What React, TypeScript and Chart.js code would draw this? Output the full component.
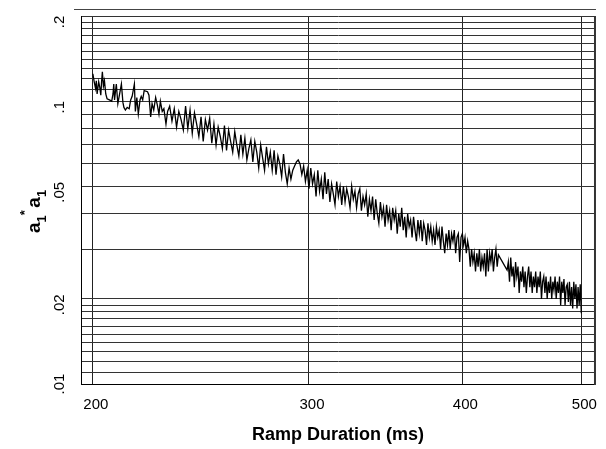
import { useEffect, useRef } from 'react';
import { Chart, registerables } from 'chart.js';

Chart.register(...registerables);

// Ramp duration (ms)
const DURATIONS: number[] = [
  200.0, 200.5, 201.0, 201.3, 201.6, 202.2, 202.6, 203.0, 203.3, 203.6,
  204.0, 204.4, 204.9, 205.4, 206.3, 207.2, 207.7, 208.0, 208.3, 209.0,
  209.6, 210.3, 211.0, 211.6, 212.0, 212.6, 213.3, 214.1, 214.7, 215.3,
  216.2, 216.6, 217.2, 217.8, 218.5, 219.0, 219.6, 220.2, 221.6, 222.2,
  222.9, 223.5, 224.2, 225.0, 225.7, 226.4, 227.0, 227.8, 228.5, 229.4,
  230.1,
  231, 232, 233, 234, 235, 236, 237, 238, 239,
  240, 241, 242, 243, 244, 245, 246, 247, 248, 249,
  250, 251, 252, 253, 254, 255, 256, 257, 258, 259,
  260, 261, 262, 263, 264, 265, 266, 267, 268, 269,
  270, 271, 272, 273, 274, 275, 276, 277, 278, 279,
  280, 281, 282, 283, 284, 285, 286, 287, 288, 289,
  290, 291, 292, 293, 294, 295, 296, 297, 298, 299,
  300, 301, 302, 303, 304, 305, 306, 307, 308, 309,
  310, 311, 312, 313, 314, 315, 316, 317, 318, 319,
  320, 321, 322, 323, 324, 325, 326, 327, 328, 329,
  330, 331, 332, 333, 334, 335, 336, 337, 338, 339,
  340, 341, 342, 343, 344, 345, 346, 347, 348, 349,
  350, 351, 352, 353, 354, 355, 356, 357, 358, 359,
  360, 361, 362, 363, 364, 365, 366, 367, 368, 369,
  370, 371, 372, 373, 374, 375, 376, 377, 378, 379,
  380, 381, 382, 383, 384, 385, 386, 387, 388, 389,
  390, 391, 392, 393, 394, 395, 396, 397, 398, 399,
  400, 401, 402, 403, 404, 405, 406, 407, 408, 409,
  410, 411, 412, 413, 414, 415, 416, 417, 418, 419,
  420, 421, 422, 423, 424, 425, 426, 427, 428,
  435, 436, 437, 438, 439,
  440, 441, 442, 443, 444, 445, 446, 447, 448, 449,
  450, 451, 452, 453, 454, 455, 456, 457, 458, 459,
  460, 461, 462, 463, 464, 465, 466, 467, 468, 469,
  470, 471, 472, 473, 474, 475, 476, 477, 478, 479,
  480, 481, 482, 483, 484, 485, 486, 487, 488, 489,
  490, 491, 492, 493, 494, 495, 496, 497, 498, 499, 500,
];

// a1* a1 values
const A1A1: number[] = [
  0.125, 0.117, 0.111, 0.118, 0.106, 0.117, 0.112, 0.105, 0.117, 0.127,
  0.113, 0.118, 0.106, 0.102, 0.101, 0.100, 0.106, 0.115, 0.101, 0.115,
  0.098, 0.106, 0.115, 0.099, 0.095, 0.093, 0.095, 0.094, 0.101, 0.104,
  0.115, 0.092, 0.103, 0.090, 0.101, 0.104, 0.101, 0.109, 0.108, 0.105,
  0.088, 0.098, 0.093, 0.103, 0.097, 0.090, 0.100, 0.092, 0.094, 0.083,
  0.092,
  0.096, 0.085, 0.094, 0.081, 0.092, 0.086, 0.079, 0.096, 0.080,
  0.093, 0.077, 0.091, 0.083, 0.075, 0.088, 0.072, 0.086, 0.079, 0.087,
  0.071, 0.083, 0.070, 0.081, 0.075, 0.068, 0.082, 0.067, 0.079, 0.072,
  0.066, 0.078, 0.070, 0.064, 0.076, 0.065, 0.074, 0.062, 0.068, 0.073,
  0.061, 0.072, 0.066, 0.058, 0.070, 0.063, 0.057, 0.069, 0.060, 0.066,
  0.057, 0.067, 0.055, 0.064, 0.060, 0.054, 0.065, 0.056, 0.051, 0.058,
  0.053, 0.057, 0.059, 0.061, 0.062, 0.060, 0.055, 0.059, 0.052, 0.057,
  0.049, 0.058, 0.051, 0.055, 0.046, 0.057, 0.048, 0.053, 0.045, 0.056,
  0.047, 0.053, 0.044, 0.051, 0.047, 0.043, 0.052, 0.046, 0.050, 0.043,
  0.050, 0.044, 0.049, 0.046, 0.042, 0.050, 0.045, 0.048, 0.042, 0.047,
  0.049, 0.041, 0.046, 0.043, 0.047, 0.039, 0.045, 0.041, 0.046, 0.038,
  0.045, 0.040, 0.037, 0.044, 0.039, 0.042, 0.036, 0.043, 0.038, 0.041,
  0.035, 0.042, 0.038, 0.041, 0.034, 0.040, 0.036, 0.042, 0.035, 0.039,
  0.033, 0.040, 0.036, 0.038, 0.033, 0.039, 0.035, 0.032, 0.038, 0.034,
  0.038, 0.032, 0.037, 0.035, 0.031, 0.037, 0.033, 0.036, 0.032, 0.035,
  0.031, 0.036, 0.033, 0.035, 0.030, 0.036, 0.032, 0.029, 0.034, 0.031,
  0.035, 0.030, 0.034, 0.032, 0.035, 0.029, 0.033, 0.034, 0.027, 0.033,
  0.034, 0.031, 0.033, 0.029, 0.032, 0.030, 0.026, 0.030, 0.027, 0.029,
  0.025, 0.029, 0.026, 0.030, 0.025, 0.028, 0.026, 0.029, 0.024, 0.030,
  0.025, 0.029, 0.027, 0.030, 0.025, 0.028, 0.030, 0.026, 0.0286,
  0.0253, 0.027, 0.023, 0.028, 0.024,
  0.026, 0.022, 0.027, 0.024, 0.026, 0.021, 0.025, 0.023, 0.026, 0.022,
  0.025, 0.021, 0.024, 0.026, 0.022, 0.025, 0.021, 0.024, 0.022, 0.025,
  0.021, 0.024, 0.022, 0.025, 0.020, 0.023, 0.024, 0.021, 0.024, 0.020,
  0.023, 0.021, 0.024, 0.020, 0.023, 0.0215, 0.024, 0.020, 0.023, 0.021,
  0.024, 0.019, 0.023, 0.021, 0.0235, 0.019, 0.022, 0.0225, 0.0195, 0.023,
  0.019, 0.022, 0.0185, 0.023, 0.020, 0.0225, 0.0185, 0.022, 0.019, 0.0225, 0.0178,
];

const X_TICKS: number[] = [200, 300, 400, 500];
const Y_GRID: number[] = [
  0.01, 0.011, 0.012, 0.013, 0.014, 0.015, 0.016, 0.017, 0.018, 0.019,
  0.02, 0.03, 0.04, 0.05, 0.06, 0.07, 0.08, 0.09,
  0.1, 0.11, 0.12, 0.13, 0.14, 0.15, 0.16, 0.17, 0.18, 0.19, 0.2,
];
const Y_LABEL_VALUES: number[] = [0.01, 0.02, 0.05, 0.1, 0.2];
const Y_LABELS: string[] = ['.01', '.02', '.05', '.1', '.2'];
const X_TITLE = 'Ramp Duration (ms)';

const FONT = '"Liberation Sans", Arial, sans-serif';

const decorPlugin = {
  id: 'decor',
  afterDraw(chart: any) {
    const { ctx, chartArea, scales } = chart;
    const ys = scales.y;
    ctx.save();
    // thick right frame
    ctx.strokeStyle = '#333';
    ctx.lineWidth = 2;
    ctx.beginPath();
    ctx.moveTo(chartArea.right, chartArea.top);
    ctx.lineTo(chartArea.right, chartArea.bottom + 1);
    ctx.stroke();
    // thin line above the frame
    ctx.lineWidth = 1;
    ctx.strokeStyle = '#444';
    ctx.beginPath();
    ctx.moveTo(74, 9.5);
    ctx.lineTo(chartArea.right + 1, 9.5);
    ctx.stroke();

    // rotated y tick labels
    ctx.fillStyle = '#000';
    ctx.font = `15px ${FONT}`;
    ctx.textAlign = 'center';
    ctx.textBaseline = 'middle';
    Y_LABEL_VALUES.forEach((v, i) => {
      const py = Math.min(ys.getPixelForValue(v) + 6, chartArea.bottom);
      ctx.save();
      ctx.translate(60, py);
      ctx.rotate(-Math.PI / 2);
      ctx.fillText(Y_LABELS[i], 0, 0);
      ctx.restore();
    });

    // y title: a1* a1 with sub/superscripts
    ctx.save();
    ctx.translate(40, 211);
    ctx.rotate(-Math.PI / 2);
    ctx.textAlign = 'left';
    ctx.textBaseline = 'alphabetic';
    const big = `bold 19px ${FONT}`;
    const small = `bold 13px ${FONT}`;
    let x = -22;
    ctx.font = big;
    ctx.fillText('a', x, 0);
    x += ctx.measureText('a').width;
    ctx.font = small;
    ctx.fillText('1', x, 6);
    x += ctx.measureText('1').width;
    ctx.fillText('*', x, -11);
    x += ctx.measureText('*').width + 2.5;
    ctx.font = big;
    ctx.fillText('a', x, 0);
    x += ctx.measureText('a').width;
    ctx.font = small;
    ctx.fillText('1', x, 6);
    ctx.restore();

    ctx.restore();
  },
};

export default function App() {
  const canvasRef = useRef<HTMLCanvasElement | null>(null);

  useEffect(() => {
    const canvas = canvasRef.current;
    if (!canvas) return;
    const points = DURATIONS.map((d, i) => ({ x: d, y: A1A1[i] }));
    const chart = new Chart(canvas, {
      type: 'line',
      data: {
        datasets: [
          {
            data: points,
            borderColor: '#000',
            borderWidth: 1.3,
            pointRadius: 0,
            tension: 0,
            fill: false,
          },
        ],
      },
      options: {
        animation: false,
        responsive: false,
        devicePixelRatio: 1,
        layout: { padding: { top: 16, right: 7, left: 0, bottom: 0 } },
        plugins: {
          legend: { display: false },
          tooltip: { enabled: false },
        },
        scales: {
          x: {
            type: 'logarithmic',
            min: 195.6,
            max: 513,
            afterBuildTicks: (scale: any) => {
              scale.ticks = X_TICKS.map((v) => ({ value: v }));
            },
            afterFit: (scale: any) => {
              scale.height = 65;
            },
            grid: { color: '#222', lineWidth: 1, drawTicks: false },
            border: { display: true, color: '#000', width: 1 },
            ticks: {
              color: '#000',
              font: { family: FONT, size: 15 },
              padding: 12,
              labelOffset: 3,
              maxRotation: 0,
              autoSkip: false,
              callback: (v: any) => String(v),
            },
            title: {
              display: true,
              text: X_TITLE,
              color: '#000',
              font: { family: FONT, size: 18, weight: 'bold' },
              padding: { top: 0, bottom: 3 },
            },
          },
          y: {
            type: 'logarithmic',
            min: 0.01,
            max: 0.2,
            afterBuildTicks: (scale: any) => {
              scale.ticks = Y_GRID.map((v) => ({ value: v }));
            },
            afterFit: (scale: any) => {
              scale.width = 81;
            },
            grid: { color: '#333', lineWidth: 1, drawTicks: false },
            border: { display: true, color: '#000', width: 1 },
            ticks: { display: false },
          },
        },
      },
      plugins: [decorPlugin],
    });
    return () => chart.destroy();
  }, []);

  return (
    <div style={{ position: 'absolute', left: 0, top: 0, width: 606, height: 449, background: '#fff' }}>
      <canvas ref={canvasRef} width={606} height={449} style={{ display: 'block' }} />
    </div>
  );
}
